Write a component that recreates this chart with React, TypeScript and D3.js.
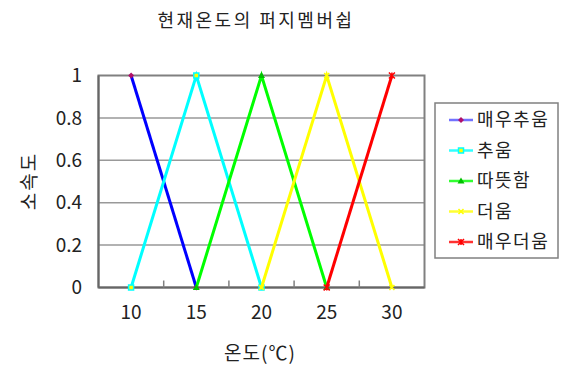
import React from "react";
import * as d3 from "d3";

// 온도 범주 (x축)
const categories = ["10", "15", "20", "25", "30"];
// 소속도 눈금
const yTicks = [0, 0.2, 0.4, 0.6, 0.8, 1];

// 각 퍼지 집합의 소속도 (null = 정의되지 않음)
const veryCold: (number | null)[] = [1, 0, null, null, null];
const cold: (number | null)[] = [0, 1, 0, null, null];
const warm: (number | null)[] = [null, 0, 1, 0, null];
const hot: (number | null)[] = [null, null, 0, 1, 0];
const veryHot: (number | null)[] = [null, null, null, 0, 1];

const seriesNames = ["매우추움", "추움", "따뜻함", "더움", "매우더움"];
const seriesValues = [veryCold, cold, warm, hot, veryHot];
const lineColors = ["#0000FF", "#00FFFF", "#00FF00", "#FFFF00", "#FF0000"];
const markerKinds = ["diamond", "square", "triangle", "x", "star"];
const markerColors = ["#B0106A", "#FFFF00", "#00C000", "#FFFF00", "#FF0000"];

const W = 569;
const H = 367;
const plot = { left: 98.5, right: 424.5, top: 75.5, bottom: 287.5 };
const FONT = "'Noto Sans CJK KR', 'Noto Sans', sans-serif";

function Marker({ kind, x, y, color, line }: { kind: string; x: number; y: number; color: string; line: string }) {
  switch (kind) {
    case "diamond":
      return <path d={`M${x},${y - 3}L${x + 3},${y}L${x},${y + 3}L${x - 3},${y}Z`} fill={color} />;
    case "square":
      return <rect x={x - 2.5} y={y - 2.5} width={5} height={5} fill={color} stroke={line} strokeWidth={1.5} />;
    case "triangle":
      return <path d={`M${x},${y - 3.5}L${x + 3.5},${y + 2.5}L${x - 3.5},${y + 2.5}Z`} fill={color} />;
    case "x":
      return (
        <path d={`M${x - 2.5},${y - 2.5}L${x + 2.5},${y + 2.5}M${x + 2.5},${y - 2.5}L${x - 2.5},${y + 2.5}`} stroke={color} strokeWidth={1.5} />
      );
    default:
      return (
        <path
          d={`M${x - 3},${y - 3}L${x + 3},${y + 3}M${x + 3},${y - 3}L${x - 3},${y + 3}M${x},${y - 3}L${x},${y + 3}`}
          stroke={color}
          strokeWidth={1.5}
        />
      );
  }
}

export default function App() {
  const x = d3.scaleBand<string>().domain(categories).range([plot.left, plot.right]).padding(0);
  const y = d3.scaleLinear().domain([0, 1]).range([plot.bottom, plot.top]);
  const cx = (c: string) => (x(c) ?? 0) + x.bandwidth() / 2;

  const line = d3
    .line<number | null>()
    .defined((d) => d !== null)
    .x((_, i) => cx(categories[i]))
    .y((d) => y(d as number));

  const boundaries = categories.map((c) => x(c) ?? 0).slice(1);

  const legend = { x: 435, y: 103, w: 123, h: 155 };
  const legendRowY = (i: number) => 120 + i * 30.5;

  return (
    <svg width={W} height={H} style={{ position: "absolute", left: 0, top: 0, background: "#fff" }} fontFamily={FONT}>
      <text x={256} y={27} textAnchor="middle" fontSize={18} fill="#222" letterSpacing={2.5}>
        현재온도의 퍼지멤버쉽
      </text>

      {/* 가로 격자선 */}
      {yTicks.slice(1, -1).map((t) => (
        <line key={t} x1={plot.left} x2={plot.right} y1={y(t)} y2={y(t)} stroke="#999" strokeWidth={1.5} />
      ))}

      {/* 플롯 영역 테두리 */}
      <rect
        x={plot.left}
        y={plot.top}
        width={plot.right - plot.left}
        height={plot.bottom - plot.top}
        fill="none"
        stroke="#808080"
        strokeWidth={2}
      />
      <line x1={plot.left} x2={plot.left} y1={plot.top} y2={plot.bottom} stroke="#666" strokeWidth={2} />
      <line x1={plot.left} x2={plot.right} y1={plot.bottom} y2={plot.bottom} stroke="#666" strokeWidth={2} />

      {/* x축 눈금 (범주 경계) */}
      {boundaries.map((b) => (
        <line key={b} x1={b} x2={b} y1={plot.bottom} y2={plot.bottom - 7} stroke="#808080" strokeWidth={1.5} />
      ))}

      {/* y축 눈금 레이블 */}
      {yTicks.map((t) => (
        <text key={t} x={82} y={y(t)} dy="0.35em" textAnchor="end" fontSize={19} fill="#222">
          {d3.format("~g")(t)}
        </text>
      ))}

      {/* x축 눈금 레이블 */}
      {categories.map((c) => (
        <text key={c} x={cx(c)} y={312} dy="0.35em" textAnchor="middle" fontSize={19} fill="#222">
          {c}
        </text>
      ))}

      <text x={260} y={353} dy="0.35em" textAnchor="middle" fontSize={19} fill="#222" letterSpacing={1}>
        온도(℃)
      </text>
      <text
        transform={`translate(29,181) rotate(-90)`}
        dy="0.35em"
        textAnchor="middle"
        fontSize={19}
        fill="#222"
        letterSpacing={2}
      >
        소속도
      </text>

      {/* 계열 선과 표식 */}
      {seriesValues.map((vals, si) => (
        <g key={seriesNames[si]}>
          <path d={line(vals) ?? ""} fill="none" stroke={lineColors[si]} strokeWidth={3} />
          {vals.map((v, i) =>
            v === null ? null : (
              <Marker key={i} kind={markerKinds[si]} x={cx(categories[i])} y={y(v)} color={markerColors[si]} line={lineColors[si]} />
            )
          )}
        </g>
      ))}

      {/* 범례 */}
      <rect x={legend.x} y={legend.y} width={legend.w} height={legend.h} fill="#fff" stroke="#808080" strokeWidth={1.5} />
      {seriesNames.map((name, i) => (
        <g key={name}>
          <line x1={449} x2={473} y1={legendRowY(i)} y2={legendRowY(i)} stroke={lineColors[i]} strokeWidth={2.5} opacity={i === 0 ? 0.55 : 0.8} />
          <Marker kind={markerKinds[i]} x={461} y={legendRowY(i)} color={markerColors[i]} line={lineColors[i]} />
          <text x={477} y={legendRowY(i)} dy="0.35em" fontSize={18} fill="#222" letterSpacing={1.5}>
            {name}
          </text>
        </g>
      ))}
    </svg>
  );
}
